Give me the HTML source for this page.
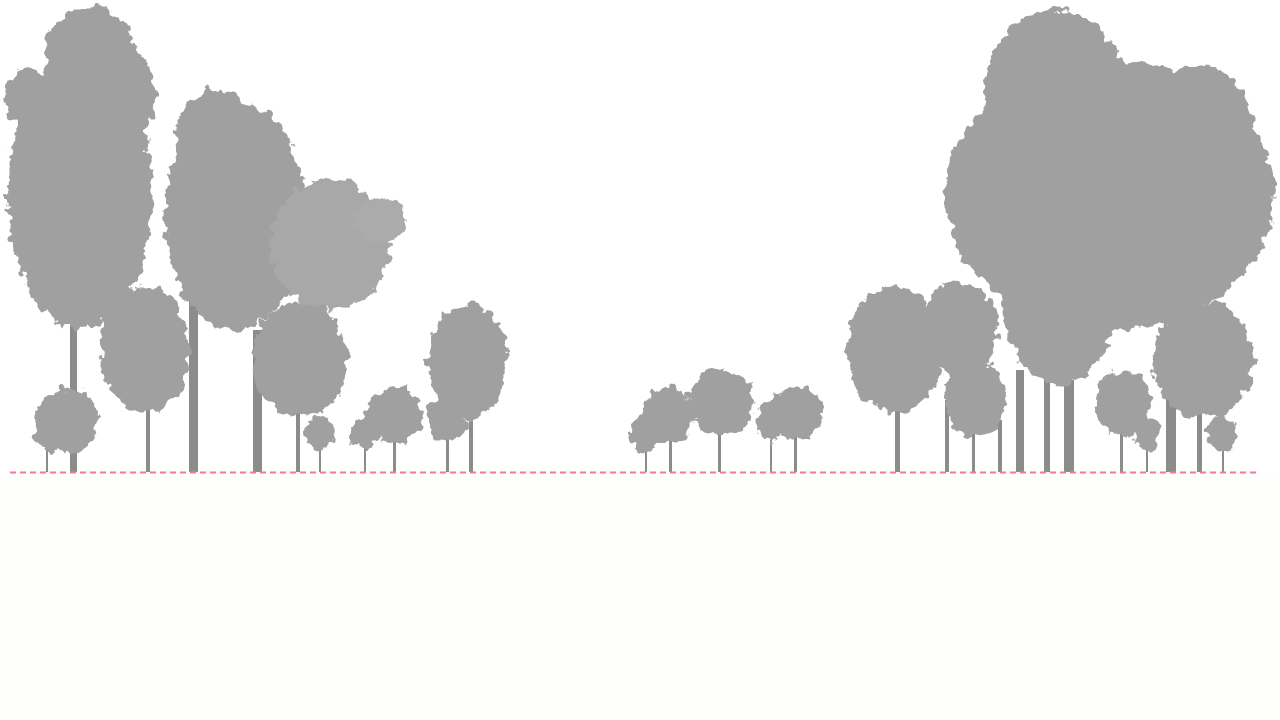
<!DOCTYPE html>
<html><head><meta charset="utf-8"><style>
html,body{margin:0;padding:0;background:#fff;width:1280px;height:720px;overflow:hidden}
</style></head><body>
<svg width="1280" height="720" viewBox="0 0 1280 720" xmlns="http://www.w3.org/2000/svg">
<defs>
<filter id="rough" x="-10%" y="-10%" width="120%" height="120%">
<feTurbulence type="fractalNoise" baseFrequency="0.09" numOctaves="3" seed="3" result="n"/>
<feDisplacementMap in="SourceGraphic" in2="n" scale="16" xChannelSelector="R" yChannelSelector="G"/>
</filter>
</defs>
<rect width="1280" height="720" fill="#fff"/>
<rect y="473" width="1280" height="247" fill="#fefefd"/>
<g fill="#8c8c8c">
<rect x="70" y="300" width="7" height="172"/>
<rect x="189" y="300" width="9" height="172"/>
<rect x="253" y="330" width="9" height="142"/>
<rect x="146" y="390" width="4" height="82"/>
<rect x="296" y="400" width="4" height="72"/>
<rect x="469" y="400" width="4" height="72"/>
<rect x="895" y="400" width="5" height="72"/>
<rect x="945" y="400" width="4" height="72"/>
<rect x="1016" y="370" width="8" height="102"/>
<rect x="1044" y="380" width="6" height="92"/>
<rect x="1064" y="380" width="10" height="92"/>
<rect x="1166" y="340" width="10" height="132"/>
<rect x="1197" y="400" width="5" height="72"/>
<rect x="998" y="420" width="4" height="52"/>
<rect x="972" y="425" width="3" height="47"/>
<rect x="1120" y="425" width="3" height="47"/>
<rect x="393" y="430" width="3" height="42"/>
<rect x="446" y="430" width="3" height="42"/>
<rect x="669" y="430" width="3" height="42"/>
<rect x="718" y="425" width="3" height="47"/>
<rect x="794" y="430" width="3" height="42"/>
<rect x="770" y="440" width="2" height="32"/>
<rect x="645" y="445" width="2" height="27"/>
<rect x="46" y="445" width="2" height="27"/>
<rect x="319" y="445" width="2" height="27"/>
<rect x="364" y="445" width="2" height="27"/>
<rect x="1146" y="445" width="2" height="27"/>
<rect x="1222" y="445" width="2" height="27"/>
</g>
<g fill="#a0a0a0" filter="url(#rough)">
<ellipse cx="80" cy="195" rx="72" ry="135"/>
<ellipse cx="90" cy="60" rx="45" ry="55"/>
<ellipse cx="30" cy="100" rx="25" ry="30"/>
<ellipse cx="130" cy="95" rx="25" ry="45"/>
<ellipse cx="235" cy="215" rx="70" ry="115"/>
<ellipse cx="215" cy="140" rx="40" ry="50"/>
<ellipse cx="330" cy="245" rx="60" ry="65" fill="#a8a8a8"/>
<ellipse cx="380" cy="220" rx="28" ry="22" fill="#ababab"/>
<ellipse cx="300" cy="360" rx="48" ry="58"/>
<ellipse cx="145" cy="350" rx="45" ry="63"/>
<ellipse cx="67" cy="420" rx="31" ry="32"/>
<ellipse cx="48" cy="432" rx="14" ry="20"/>
<ellipse cx="320" cy="433" rx="14" ry="17"/>
<ellipse cx="365" cy="433" rx="14" ry="17"/>
<ellipse cx="394" cy="415" rx="28" ry="28"/>
<ellipse cx="468" cy="360" rx="40" ry="58"/>
<ellipse cx="447" cy="420" rx="20" ry="22"/>
<ellipse cx="645" cy="433" rx="14" ry="17"/>
<ellipse cx="668" cy="415" rx="25" ry="28"/>
<ellipse cx="721" cy="402" rx="32" ry="33"/>
<ellipse cx="770" cy="422" rx="14" ry="20"/>
<ellipse cx="795" cy="413" rx="28" ry="26"/>
<ellipse cx="1110" cy="195" rx="165" ry="135"/>
<ellipse cx="1055" cy="90" rx="70" ry="80"/>
<ellipse cx="1200" cy="135" rx="55" ry="70"/>
<ellipse cx="1060" cy="310" rx="55" ry="75"/>
<ellipse cx="895" cy="350" rx="48" ry="63"/>
<ellipse cx="975" cy="400" rx="30" ry="38"/>
<ellipse cx="960" cy="330" rx="38" ry="48"/>
<ellipse cx="1123" cy="403" rx="28" ry="33"/>
<ellipse cx="1147" cy="433" rx="14" ry="17"/>
<ellipse cx="1203" cy="360" rx="50" ry="58"/>
<ellipse cx="1222" cy="433" rx="14" ry="19"/>
</g>
<line x1="10" y1="472.5" x2="1260" y2="472.5" stroke="#f27a92" stroke-width="2" stroke-dasharray="6 4"/>
</svg>
</body></html>
